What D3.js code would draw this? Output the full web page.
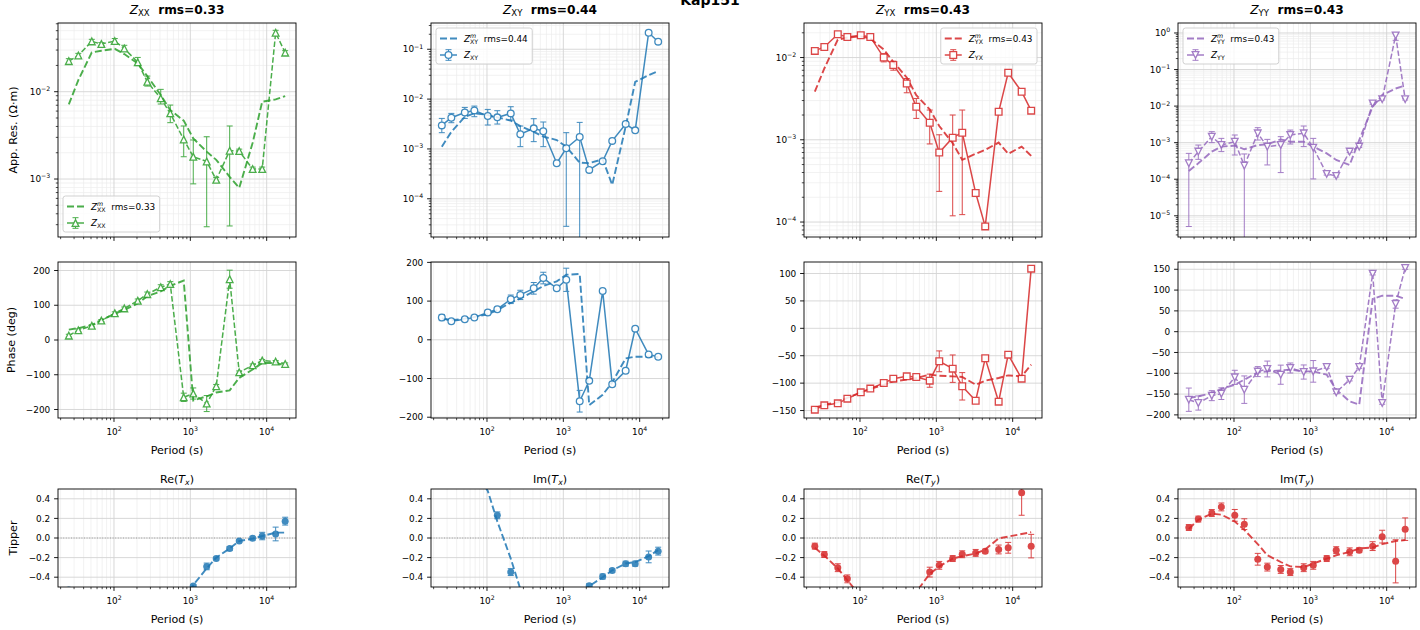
<!DOCTYPE html>
<html>
<head>
<meta charset="utf-8">
<script src="https://cdn.jsdelivr.net/npm/d3@7"></script>
<style>
body { margin: 0; background: #fff; }
svg { display: block; }
text { font-family: "DejaVu Sans", sans-serif; white-space: pre; }
</style>
</head>
<body>
<svg id="fig" width="1420" height="630"></svg>
<script>
// periods (s)
const periods = [25.6, 34.1, 51.2, 68.3, 102.4, 136.5, 204.8, 273.1, 409.6, 546.1, 819.2, 1092.3, 1638.4, 2184.5, 3276.8, 4369.1, 6553.6, 8738.1, 13107.2, 17476.3];

// apparent resistivity: observed, error bar low / high, model
const rhoXX   = [0.0224, 0.026, 0.0377, 0.0352, 0.038, 0.0313, 0.0217, 0.013, 0.0084, 0.00565, 0.00284, 0.0018, 0.00159, 0.00098, 0.00211, 0.00209, 0.0013, 0.0013, 0.0474, 0.028];
const rhoXXLo = [0.0211, 0.0245, 0.0356, 0.0339, 0.0356, 0.0295, 0.0199, 0.0116, 0.00723, 0.00442, 0.0018, 0.00088, 0.000284, 0.00092, 0.00029, 0.002, 0.00123, 0.00123, 0.0445, 0.0265];
const rhoXXHi = [0.0239, 0.0275, 0.0398, 0.0365, 0.0407, 0.034, 0.0247, 0.0151, 0.01064, 0.00703, 0.00405, 0.0028, 0.00305, 0.00104, 0.00405, 0.0022, 0.00137, 0.00137, 0.0505, 0.0295];
const rhoXXm  = [0.00716, 0.0136, 0.0282, 0.0295, 0.031, 0.027, 0.0211, 0.0151, 0.00916, 0.00616, 0.00466, 0.00292, 0.00206, 0.00166, 0.00106, 0.00079, 0.0026, 0.00768, 0.00817, 0.0089];

const rhoXY   = [0.00297, 0.00423, 0.0054, 0.00593, 0.00457, 0.0043, 0.00517, 0.00197, 0.00259, 0.00226, 0.000517, 0.00103, 0.00174, 0.00038, 0.000567, 0.00145, 0.00316, 0.00236, 0.215, 0.142];
const rhoXYLo = [0.00212, 0.00336, 0.0041, 0.00443, 0.00302, 0.00316, 0.0038, 0.00111, 0.0014, 0.00111, 0.00049, 0.000028, 0.000001, 0.00036, 0.00054, 0.00138, 0.003, 0.00225, 0.205, 0.135];
const rhoXYHi = [0.0041, 0.00517, 0.00681, 0.00724, 0.00621, 0.00585, 0.00703, 0.00288, 0.00404, 0.00347, 0.00054, 0.00212, 0.00341, 0.0004, 0.0006, 0.00152, 0.00332, 0.00247, 0.225, 0.149];
const rhoXYm  = [0.00111, 0.0022, 0.0044, 0.0052, 0.0048, 0.0043, 0.0037, 0.00288, 0.0022, 0.00177, 0.00151, 0.00111, 0.00053, 0.00052, 0.00062, 0.00019, 0.0028, 0.0222, 0.0302, 0.0363];

const rhoYX   = [0.01205, 0.01346, 0.0192, 0.0178, 0.0187, 0.0178, 0.01, 0.0081, 0.00484, 0.00252, 0.00161, 0.0007, 0.00106, 0.00122, 0.000225, 0.0000885, 0.00219, 0.00652, 0.00384, 0.00226];
const rhoYXLo = [0.0117, 0.0131, 0.0187, 0.0173, 0.0182, 0.0173, 0.00886, 0.00702, 0.00373, 0.00182, 0.00089, 0.000236, 0.000119, 0.000123, 0.000215, 0.0000845, 0.00212, 0.00632, 0.00372, 0.00219];
const rhoYXHi = [0.0124, 0.0139, 0.0197, 0.0183, 0.0192, 0.0183, 0.01117, 0.00903, 0.00556, 0.00318, 0.0023, 0.00115, 0.002, 0.0023, 0.000235, 0.0000925, 0.00226, 0.00672, 0.00396, 0.00233];
const rhoYXm  = [0.00384, 0.00736, 0.0165, 0.0175, 0.0181, 0.017, 0.0125, 0.00886, 0.00573, 0.00349, 0.00234, 0.00147, 0.00091, 0.00057, 0.000676, 0.000754, 0.000925, 0.000676, 0.000826, 0.000637];

const rhoYY   = [2.73e-4, 5.7e-4, 1.46e-3, 8.6e-4, 1.06e-3, 2.36e-4, 1.8e-3, 7.8e-4, 8.6e-4, 1.62e-3, 1.8e-3, 7.3e-4, 1.4e-4, 1.23e-4, 5.7e-4, 7.8e-4, 0.0118, 0.0155, 0.86, 0.0155];
const rhoYYLo = [5.1e-6, 3.5e-4, 1.0e-3, 5.7e-4, 4.6e-4, 1e-7, 1.18e-3, 2.46e-4, 1.52e-4, 9.2e-4, 7.8e-4, 1.02e-4, 1.3e-4, 1.15e-4, 5.4e-4, 7.4e-4, 0.0112, 0.0147, 0.63, 0.0147];
const rhoYYHi = [5.1e-4, 8.6e-4, 2.0e-3, 1.31e-3, 1.62e-3, 4.9e-4, 2.57e-3, 1.23e-3, 1.46e-3, 2.21e-3, 2.85e-3, 1.31e-3, 1.5e-4, 1.31e-4, 6.0e-4, 8.2e-4, 0.0124, 0.0163, 1.0, 0.0163];
const rhoYYm  = [1.69e-4, 2.73e-4, 5.7e-4, 7.8e-4, 8.3e-4, 6.6e-4, 8.6e-4, 9e-4, 1.23e-3, 1.06e-3, 1.06e-3, 7.8e-4, 5.1e-4, 3.37e-4, 2.46e-4, 1.18e-3, 9.6e-3, 0.02, 0.0303, 0.037];

// phase (deg): observed, error, model
const phXX  = [12.5, 28, 41, 56, 77, 91, 113, 132, 152, 161, -165, -154, -183, -133, 175, -93, -73, -59, -62, -69];
const phXXE = [4, 4, 3, 3, 4, 4, 5, 6, 7, 7, 12, 16, 23, 5, 26, 4, 4, 3, 3, 3];
const phXXm = [30, 34, 43, 58, 75, 87, 105, 126, 140, 156, 171, -174, -162, -151, -145, -109, -85, -66, -66, -73];

const phXY  = [57.5, 48, 53, 57.5, 70.6, 79, 104.6, 116, 133, 159.5, 133, 155, -158.6, -106, 126, -115, -80, 28.8, -38, -43.6];
const phXYE = [8, 4, 5, 5, 6, 5, 11, 12, 15, 15, 5, 30, 28, 5, 4, 5, 4, 4, 4, 4];
const phXYm = [55, 50.5, 55, 59, 66, 77, 96, 107, 125, 139, 151, 168, 170, -169, -142, -110, -48, -43.6, -43.6, -45];

const phYX  = [-148.4, -140.5, -136.9, -128.3, -116.8, -110, -99.8, -91.8, -87.6, -88.8, -95.5, -60.2, -73.6, -105.8, -132, -54.7, -133.8, -48, -91.8, 108.9];
const phYXE = [4, 3, 3, 3, 3, 3, 3, 3, 3, 4, 12, 19, 25, 25, 4, 3, 4, 3, 3, 3];
const phYXm = [-145.4, -139.3, -135, -127, -116.8, -110.7, -102.8, -96.7, -93.7, -90.6, -84.5, -86.4, -87.6, -88.8, -102.8, -95.5, -90.6, -85.8, -87.6, -66.3];

const phYY  = [-163.5, -171.5, -153.8, -149, -109.8, -139.4, -96, -89.7, -103.4, -87.3, -97, -95.4, -85, -145.8, -115.4, -85, 139.4, -171.5, 66.5, 153];
const phYYE = [28, 17, 12, 14, 17, 33, 12, 19, 23, 12, 17, 26, 3, 3, 3, 3, 3, 3, 10, 3];
const phYYm = [-159.5, -155.4, -147.4, -137.8, -127.4, -115.4, -97.8, -95.4, -93, -91.3, -95.4, -95.4, -103.4, -139.4, -167.5, -175.5, 78.5, 86.5, 86.5, 78.5];

// tipper: observed, error, model
const reTx  = [-0.53, -0.58, -0.63, -0.7, -0.78, -0.84, -0.9, -0.95, -0.93, -0.85, -0.7, -0.49, -0.29, -0.21, -0.107, -0.031, -0.003, 0.02, 0.041, 0.172];
const reTxE = [0.02, 0.02, 0.02, 0.02, 0.02, 0.02, 0.02, 0.02, 0.02, 0.02, 0.02, 0.015, 0.034, 0.015, 0.02, 0.015, 0.02, 0.038, 0.07, 0.04];
const reTxm = [-0.56, -0.6, -0.66, -0.72, -0.8, -0.86, -0.92, -0.95, -0.92, -0.84, -0.72, -0.48, -0.31, -0.2, -0.107, -0.031, -0.007, 0.02, 0.055, 0.055];

const imTx  = [0.95, 0.9, 0.85, 0.78, 0.62, 0.231, -0.348, -0.62, -0.75, -0.8, -0.78, -0.7, -0.6, -0.486, -0.393, -0.331, -0.262, -0.262, -0.193, -0.134];
const imTxE = [0.03, 0.03, 0.03, 0.03, 0.03, 0.035, 0.035, 0.03, 0.03, 0.03, 0.03, 0.03, 0.03, 0.02, 0.025, 0.02, 0.025, 0.025, 0.06, 0.04];
const imTxm = [1.2, 1.0, 0.85, 0.7, 0.48, 0.17, -0.21, -0.52, -0.75, -0.85, -0.82, -0.72, -0.6, -0.49, -0.4, -0.33, -0.26, -0.245, -0.186, -0.124];

const reTy  = [-0.083, -0.169, -0.303, -0.417, -0.58, -0.68, -0.75, -0.72, -0.65, -0.56, -0.348, -0.279, -0.21, -0.166, -0.152, -0.134, -0.117, -0.1, 0.462, -0.083];
const reTyE = [0.03, 0.03, 0.04, 0.04, 0.04, 0.04, 0.04, 0.04, 0.04, 0.04, 0.05, 0.04, 0.03, 0.035, 0.035, 0.02, 0.045, 0.055, 0.23, 0.12];
const reTym = [-0.1, -0.18, -0.31, -0.43, -0.6, -0.75, -0.85, -0.8, -0.7, -0.55, -0.366, -0.29, -0.21, -0.186, -0.159, -0.117, -0.003, 0.014, 0.041, 0.059];

const imTy  = [0.107, 0.193, 0.255, 0.317, 0.231, 0.141, -0.217, -0.297, -0.321, -0.348, -0.303, -0.279, -0.21, -0.124, -0.141, -0.124, -0.083, 0.014, -0.238, 0.09];
const imTyE = [0.03, 0.03, 0.035, 0.04, 0.06, 0.055, 0.06, 0.04, 0.04, 0.035, 0.04, 0.04, 0.03, 0.035, 0.04, 0.025, 0.045, 0.065, 0.22, 0.115];
const imTym = [0.093, 0.186, 0.248, 0.238, 0.169, 0.083, -0.062, -0.176, -0.245, -0.29, -0.297, -0.262, -0.21, -0.176, -0.141, -0.107, -0.097, -0.062, -0.031, -0.021];

const rmsVals = ["0.33", "0.44", "0.43", "0.43"];

// ---- layout / style ----
const svg = d3.select("#fig");
const colX = [58, 431, 804, 1178], colW = 238;
const rowRho = [23, 237], rowPh = [262, 418], rowTip = [489, 587];
const TICK = 3.9, MTICK = 2.2, PAD = 3.9;
const FS = 8.9, LFS = 11.1, TFS = 12.2, LGF = 8.9;
const GRID = "#d4d4d4", MGRID = "#ededed";
const BLUE = "#1f77b4", RED = "#d62728", GREEN = "#2ca02c", PURPLE = "#9467bd";

const lp = d3.extent(periods).map(Math.log10);
const mg = (lp[1] - lp[0]) * 0.05;
const xDom = [10 ** (lp[0] - mg), 10 ** (lp[1] + mg)];

const ctx = document.createElement("canvas").getContext("2d");
function textW(t, s, it, b) {
  ctx.font = `${it ? "italic " : ""}${b ? "bold " : ""}${s}px "DejaVu Sans"`;
  return ctx.measureText(t).width;
}
// mixed-style text (sub/superscripts)
function rich(parent, x, y, parts, anchor = "start", rot = 0) {
  const ws = parts.map(p => textW(p.t, p.s, p.it, p.b));
  const xs = [];
  let cx = 0, ps = 0, pw = 0;
  parts.forEach((p, i) => {
    if (p.stack) { xs.push(ps); cx = ps + Math.max(pw, ws[i]); }
    else { xs.push(cx); ps = cx; pw = ws[i]; cx += ws[i]; }
  });
  const off = anchor === "middle" ? -cx / 2 : anchor === "end" ? -cx : 0;
  const g = parent.append("g").attr("transform", `translate(${x},${y}) rotate(${rot})`);
  parts.forEach((p, i) => {
    g.append("text").attr("x", xs[i] + off).attr("y", p.dy || 0)
      .attr("font-size", p.s)
      .attr("font-style", p.it ? "italic" : null)
      .attr("font-weight", p.b ? "bold" : null)
      .attr("fill", "#000").text(p.t);
  });
  return cx;
}
function powLabel(e, s) {
  return [{ t: "10", s: s }, { t: e < 0 ? "\u2212" + (-e) : String(e), s: s * 0.7, dy: -s * 0.42 }];
}
function logTicks(dom) {
  const a = Math.log10(dom[0]), b = Math.log10(dom[1]);
  const major = [], minor = [];
  for (let e = Math.floor(a); e <= Math.ceil(b); e++) {
    for (let k = 1; k < 10; k++) {
      const v = k * 10 ** e, lv = Math.log10(v);
      if (lv < a - 1e-9 || lv > b + 1e-9) continue;
      (k === 1 ? major : minor).push([v, e]);
    }
  }
  return { major, minor };
}
const minus = v => (v < 0 ? "\u2212" : "") + Math.abs(v);
const minus1 = v => (v < 0 ? "\u2212" : "") + Math.abs(v).toFixed(1);

let clipN = 0;
function frame(px, top, bot, y, o) {
  const x = d3.scaleLog().domain(xDom).range([px, px + colW]);
  const clip = "clip" + (clipN++);
  svg.append("clipPath").attr("id", clip).append("rect")
    .attr("x", px).attr("y", top).attr("width", colW).attr("height", bot - top);
  const grid = svg.append("g");
  const xt = logTicks(xDom);
  let ymaj, ymin = [];
  if (o.ylog) { const t = logTicks(y.domain()); ymaj = t.major; ymin = t.minor; }
  else ymaj = o.yticks.map(v => [v]);
  xt.minor.forEach(([v]) => grid.append("line").attr("x1", x(v)).attr("x2", x(v)).attr("y1", top).attr("y2", bot)
    .attr("stroke", MGRID).attr("stroke-width", 0.7));
  ymin.forEach(([v]) => grid.append("line").attr("x1", px).attr("x2", px + colW).attr("y1", y(v)).attr("y2", y(v))
    .attr("stroke", MGRID).attr("stroke-width", 0.7));
  xt.major.forEach(([v]) => grid.append("line").attr("x1", x(v)).attr("x2", x(v)).attr("y1", top).attr("y2", bot)
    .attr("stroke", GRID).attr("stroke-width", 0.9));
  ymaj.forEach(([v]) => grid.append("line").attr("x1", px).attr("x2", px + colW).attr("y1", y(v)).attr("y2", y(v))
    .attr("stroke", GRID).attr("stroke-width", 0.9));

  const plot = svg.append("g").attr("clip-path", `url(#${clip})`);
  const deco = svg.append("g");
  deco.append("rect").attr("x", px).attr("y", top).attr("width", colW).attr("height", bot - top)
    .attr("fill", "none").attr("stroke", "#000").attr("stroke-width", 0.9);
  xt.major.forEach(([v, e]) => {
    deco.append("line").attr("x1", x(v)).attr("x2", x(v)).attr("y1", bot).attr("y2", bot + TICK).attr("stroke", "#000").attr("stroke-width", 0.9);
    if (o.xlabels) rich(deco, x(v), bot + 16.5, powLabel(e, FS), "middle");
  });
  xt.minor.forEach(([v]) => deco.append("line").attr("x1", x(v)).attr("x2", x(v)).attr("y1", bot).attr("y2", bot + MTICK)
    .attr("stroke", "#000").attr("stroke-width", 0.7));
  ymaj.forEach(([v, e]) => {
    deco.append("line").attr("x1", px - TICK).attr("x2", px).attr("y1", y(v)).attr("y2", y(v)).attr("stroke", "#000").attr("stroke-width", 0.9);
    if (o.ylog) rich(deco, px - TICK - PAD, y(v) + 3.2, powLabel(e, FS), "end");
    else deco.append("text").attr("x", px - TICK - PAD).attr("y", y(v) + 3.2).attr("text-anchor", "end")
      .attr("font-size", FS).text(o.fmt(v));
  });
  ymin.forEach(([v]) => deco.append("line").attr("x1", px - MTICK).attr("x2", px).attr("y1", y(v)).attr("y2", y(v))
    .attr("stroke", "#000").attr("stroke-width", 0.7));
  if (o.xlabel) deco.append("text").attr("x", px + colW / 2).attr("y", bot + 35.5).attr("text-anchor", "middle")
    .attr("font-size", LFS).text("Period (s)");
  return { x, plot, deco };
}

function markerPath(type, s) {
  const h = s / 2;
  if (type === "tri") return `M0,${-h}L${h},${h}L${-h},${h}Z`;
  if (type === "triDown") return `M0,${h}L${h},${-h}L${-h},${-h}Z`;
  if (type === "square") return `M${-h},${-h}H${h}V${h}H${-h}Z`;
  return `M${h},0A${h},${h} 0 1,1 ${-h},0A${h},${h} 0 1,1 ${h},0Z`;
}

function errBars(g, xs, ys, lo, hi, color) {
  lo.forEach((l, i) => {
    const xx = xs(periods[i]), y1 = ys(l), y2 = ys(hi[i]);
    g.append("line").attr("x1", xx).attr("x2", xx).attr("y1", y1).attr("y2", y2).attr("stroke", color).attr("stroke-width", 1);
    [y1, y2].forEach(yy => g.append("line").attr("x1", xx - 3).attr("x2", xx + 3).attr("y1", yy).attr("y2", yy)
      .attr("stroke", color).attr("stroke-width", 1));
  });
}

function drawComp(p, xs, ys, obs, lo, hi, model, c) {
  const line = d3.line().x((d, i) => xs(periods[i])).y(d => ys(d));
  p.append("path").attr("d", line(model)).attr("fill", "none").attr("stroke", c.color)
    .attr("stroke-width", 1.9).attr("stroke-dasharray", "7,3").attr("opacity", 0.85);
  const g = p.append("g").attr("opacity", 0.85);
  errBars(g, xs, ys, lo, hi, c.color);
  g.append("path").attr("d", line(obs)).attr("fill", "none").attr("stroke", c.color)
    .attr("stroke-width", 1.5).attr("stroke-dasharray", c.dashed ? "5.5,2.4" : null);
  obs.forEach((v, i) => g.append("path").attr("d", markerPath(c.marker, 6.7))
    .attr("transform", `translate(${xs(periods[i])},${ys(v)})`)
    .attr("fill", "#fff").attr("stroke", c.color).attr("stroke-width", 1.3));
}

function legend(deco, px, top, bot, c, rms) {
  const modelParts = [{ t: "Z", s: LGF, it: true }, { t: "m", s: LGF * 0.7, it: true, dy: -LGF * 0.42 },
    { t: c.sub, s: LGF * 0.7, dy: LGF * 0.25, stack: true }, { t: "  rms=" + rms, s: LGF }];
  const dataParts = [{ t: "Z", s: LGF, it: true }, { t: c.sub, s: LGF * 0.7, dy: LGF * 0.22 }];
  const tw = Math.max(...[modelParts, dataParts].map(ps => {
    let w = 0, pw = 0;
    ps.forEach(p => { const ww = textW(p.t, p.s, p.it); if (p.stack) w += Math.max(0, ww - pw); else { w += ww; pw = ww; } });
    return w;
  }));
  const bw = 3.6 + 17.8 + 7.1 + tw + 4, bh = 36;
  const bx = c.loc.includes("left") ? px + 5 : px + colW - 5 - bw;
  const by = c.loc.includes("lower") ? bot - 5 - bh : top + 5;
  const lg = deco.append("g");
  lg.append("rect").attr("x", bx).attr("y", by).attr("width", bw).attr("height", bh).attr("rx", 2.5)
    .attr("fill", "#fff").attr("fill-opacity", 0.8).attr("stroke", "#cccccc").attr("stroke-width", 0.9);
  const hx0 = bx + 4, hx1 = bx + 21, r1 = by + 10.5, r2 = by + 27;
  lg.append("line").attr("x1", hx0).attr("x2", hx1).attr("y1", r1).attr("y2", r1).attr("stroke", c.color)
    .attr("stroke-width", 1.9).attr("stroke-dasharray", "7,3").attr("opacity", 0.85);
  const dg = lg.append("g").attr("opacity", 0.85);
  const hc = (hx0 + hx1) / 2;
  dg.append("line").attr("x1", hx0).attr("x2", hx1).attr("y1", r2).attr("y2", r2).attr("stroke", c.color).attr("stroke-width", 1.5);
  dg.append("line").attr("x1", hc).attr("x2", hc).attr("y1", r2 - 5.3).attr("y2", r2 + 5.3).attr("stroke", c.color).attr("stroke-width", 1);
  [r2 - 5.3, r2 + 5.3].forEach(yy => dg.append("line").attr("x1", hc - 3).attr("x2", hc + 3).attr("y1", yy).attr("y2", yy)
    .attr("stroke", c.color).attr("stroke-width", 1));
  dg.append("path").attr("d", markerPath(c.marker, 6.7)).attr("transform", `translate(${hc},${r2})`)
    .attr("fill", "#fff").attr("stroke", c.color).attr("stroke-width", 1.3);
  rich(lg, hx1 + 7, r1 + 3.2, modelParts);
  rich(lg, hx1 + 7, r2 + 3.2, dataParts);
}

const comps = [
  { sub: "XX", color: GREEN, marker: "tri", dashed: true, loc: "lower left",
    rho: [rhoXX, rhoXXLo, rhoXXHi, rhoXXm], rhoDom: [10 ** -3.664, 10 ** -1.213],
    ph: [phXX, phXXE, phXXm], phDom: [-224.5, 224.5], phTicks: [-200, -100, 0, 100, 200] },
  { sub: "XY", color: BLUE, marker: "circle", dashed: false, loc: "upper left",
    rho: [rhoXY, rhoXYLo, rhoXYHi, rhoXYm], rhoDom: [10 ** -4.767, 10 ** -0.473],
    ph: [phXY, phXYE, phXYm], phDom: [-202, 201], phTicks: [-200, -100, 0, 100, 200] },
  { sub: "YX", color: RED, marker: "square", dashed: false, loc: "upper right",
    rho: [rhoYX, rhoYXLo, rhoYXHi, rhoYXm], rhoDom: [10 ** -4.182, 10 ** -1.58],
    ph: [phYX, phYXE, phYXm], phDom: [-163.6, 121], phTicks: [-150, -100, -50, 0, 50, 100] },
  { sub: "YY", color: PURPLE, marker: "triDown", dashed: true, loc: "upper left",
    rho: [rhoYY, rhoYYLo, rhoYYHi, rhoYYm], rhoDom: [10 ** -5.58, 10 ** 0.273],
    ph: [phYY, phYYE, phYYm], phDom: [-207.5, 167.5], phTicks: [-200, -150, -100, -50, 0, 50, 100, 150] }
];

comps.forEach((c, k) => {
  const px = colX[k];
  // apparent resistivity
  const yr = d3.scaleLog().domain(c.rhoDom).range([rowRho[1], rowRho[0]]);
  const fr = frame(px, rowRho[0], rowRho[1], yr, { ylog: true, xlabels: false });
  drawComp(fr.plot, fr.x, yr, c.rho[0], c.rho[1], c.rho[2], c.rho[3], c);
  legend(fr.deco, px, rowRho[0], rowRho[1], c, rmsVals[k]);
  rich(fr.deco, px + colW / 2, rowRho[0] - 9.5, [{ t: "Z", s: TFS, it: true },
    { t: c.sub, s: TFS * 0.7, dy: TFS * 0.22 }, { t: "  rms=" + rmsVals[k], s: TFS, b: true }], "middle");
  // phase
  const yp = d3.scaleLinear().domain(c.phDom).range([rowPh[1], rowPh[0]]);
  const fp = frame(px, rowPh[0], rowPh[1], yp, { ylog: false, yticks: c.phTicks, fmt: minus, xlabels: true, xlabel: true });
  const [v, e, m] = c.ph;
  drawComp(fp.plot, fp.x, yp, v, v.map((d, i) => d - e[i]), v.map((d, i) => d + e[i]), m, c);
});

const tips = [
  { re: "Re(", comp: "x", color: BLUE, v: reTx, e: reTxE, m: reTxm },
  { re: "Im(", comp: "x", color: BLUE, v: imTx, e: imTxE, m: imTxm },
  { re: "Re(", comp: "y", color: RED, v: reTy, e: reTyE, m: reTym },
  { re: "Im(", comp: "y", color: RED, v: imTy, e: imTyE, m: imTym }
];
tips.forEach((t, k) => {
  const px = colX[k];
  const yt = d3.scaleLinear().domain([-0.5, 0.5]).range([rowTip[1], rowTip[0]]);
  const f = frame(px, rowTip[0], rowTip[1], yt, { ylog: false, yticks: [-0.4, -0.2, 0, 0.2, 0.4], fmt: minus1, xlabels: true, xlabel: true });
  f.plot.append("line").attr("x1", px).attr("x2", px + colW).attr("y1", yt(0)).attr("y2", yt(0))
    .attr("stroke", "#808080").attr("stroke-width", 0.7).attr("stroke-dasharray", "1,1.6");
  const line = d3.line().x((d, i) => f.x(periods[i])).y(d => yt(d));
  f.plot.append("path").attr("d", line(t.m)).attr("fill", "none").attr("stroke", t.color)
    .attr("stroke-width", 1.9).attr("stroke-dasharray", "7,3").attr("opacity", 0.85);
  const g = f.plot.append("g").attr("opacity", 0.85);
  errBars(g, f.x, yt, t.v.map((d, i) => d - t.e[i]), t.v.map((d, i) => d + t.e[i]), t.color);
  t.v.forEach((d, i) => g.append("circle").attr("cx", f.x(periods[i])).attr("cy", yt(d)).attr("r", 3.5).attr("fill", t.color));
  rich(f.deco, px + colW / 2, rowTip[0] - 6.5, [{ t: t.re, s: LFS }, { t: "T", s: LFS, it: true },
    { t: t.comp, s: LFS * 0.7, it: true, dy: LFS * 0.22 }, { t: ")", s: LFS }], "middle");
});

// axis labels and figure title
rich(svg, 17, (rowRho[0] + rowRho[1]) / 2, [{ t: "App. Res. (\u03a9\u00b7m)", s: LFS }], "middle", -90);
rich(svg, 15, (rowPh[0] + rowPh[1]) / 2, [{ t: "Phase (deg)", s: LFS }], "middle", -90);
rich(svg, 17, (rowTip[0] + rowTip[1]) / 2, [{ t: "Tipper", s: LFS }], "middle", -90);
svg.append("text").attr("x", 710).attr("y", 5).attr("text-anchor", "middle").attr("font-weight", "bold")
  .attr("font-size", 14).text("Kap151");
</script>
</body>
</html>
